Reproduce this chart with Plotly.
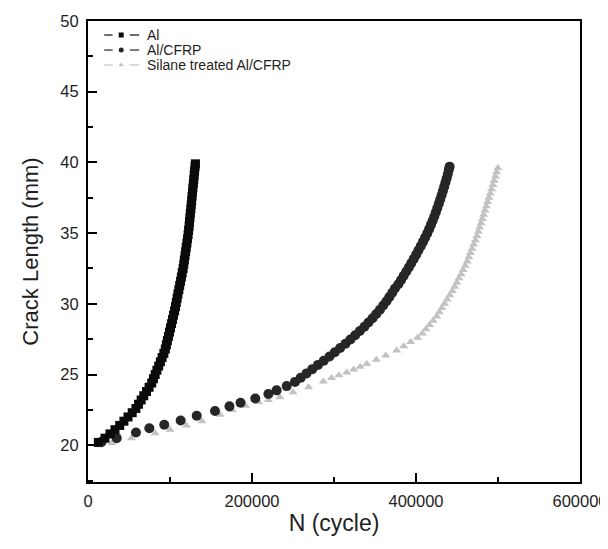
import plotly.graph_objects as go

# ---------------- data ----------------
al_n = [12.6, 20.7, 26.8, 32.9, 38.7, 43.8, 48.8, 53.9, 58.4, 61.6, 64.8, 68.0, 71.3, 74.5,
        77.7, 79.8, 81.9, 84.0, 86.2, 88.3, 90.4, 92.5, 94.3, 95.6, 96.8, 98.1, 99.4, 100.6,
        101.9, 103.1, 104.3, 105.6, 106.7, 107.7, 108.7, 109.7, 110.8, 111.8, 112.9, 113.9,
        114.9, 116.0, 116.8, 117.5, 118.3, 119.1, 119.8, 120.6, 121.4, 122.1, 122.7, 123.3,
        123.8, 124.3, 124.8, 125.4, 125.9, 126.4, 126.9, 127.4, 127.9, 128.5, 129.0, 129.5,
        130.0, 130.5, 131.0]
al_a = [20.2, 20.5, 20.8, 21.1, 21.4, 21.7, 22.0, 22.3, 22.6, 22.9, 23.2, 23.5, 23.8, 24.1,
        24.4, 24.7, 25.0, 25.3, 25.6, 25.9, 26.2, 26.5, 26.8, 27.1, 27.4, 27.7, 28.0, 28.3,
        28.6, 28.9, 29.2, 29.5, 29.8, 30.1, 30.4, 30.7, 31.0, 31.3, 31.6, 31.9, 32.2, 32.5,
        32.8, 33.1, 33.4, 33.7, 34.0, 34.3, 34.6, 34.9, 35.2, 35.5, 35.8, 36.1, 36.4, 36.7,
        37.0, 37.3, 37.6, 37.9, 38.2, 38.5, 38.8, 39.1, 39.4, 39.7, 39.9]

cfrp_n = [16.7, 35.0, 58.5, 74.8, 93.0, 113.0, 132.6, 154.9, 172.5, 186.0, 204.0, 220.0,
          230.0, 242.3, 252.4, 259.5, 266.5, 273.5, 280.5, 287.5, 294.5, 301.0, 307.5, 314.0,
          320.0, 325.8, 331.5, 337.0, 342.0, 347.0, 351.5, 356.0, 360.0, 364.0, 367.5, 371.0,
          374.3, 378.5, 381.8, 385.0, 388.2, 391.3, 394.3, 397.3, 400.2, 403.0, 405.8, 408.5,
          411.1, 413.7, 416.0, 418.2, 420.3, 422.3, 424.2, 426.0, 427.8, 429.5, 431.2, 432.8,
          434.4, 435.9, 437.4, 438.8, 440.0, 441.0]
cfrp_a = [20.25, 20.5, 20.9, 21.2, 21.45, 21.75, 22.08, 22.42, 22.75, 23.0, 23.3, 23.62,
          23.88, 24.18, 24.48, 24.78, 25.08, 25.38, 25.68, 25.98, 26.28, 26.58, 26.88, 27.18,
          27.48, 27.78, 28.08, 28.38, 28.68, 28.98, 29.28, 29.58, 29.88, 30.18, 30.48, 30.78,
          31.08, 31.38, 31.68, 31.98, 32.28, 32.58, 32.88, 33.18, 33.48, 33.78, 34.08, 34.38,
          34.68, 34.98, 35.28, 35.58, 35.88, 36.18, 36.48, 36.78, 37.08, 37.38, 37.68, 37.98,
          38.28, 38.58, 38.88, 39.18, 39.48, 39.7]

sil_n = [15.0, 29.0, 53.0, 82.0, 100.0, 120.0, 139.0, 161.0, 176.0, 192.0, 208.0, 220.0,
         234.0, 250.0, 269.0, 287.0, 297.0, 306.0, 315.5, 324.0, 332.0, 340.0, 351.5, 363.0,
         376.4, 385.0, 393.5, 402.0, 407.8, 412.1, 416.5, 420.9, 425.2, 428.4, 431.6, 434.8,
         438.0, 441.2, 444.4, 447.2, 449.8, 452.4, 455.0, 457.5, 460.1, 462.5, 464.4, 466.4,
         468.4, 470.4, 472.4, 474.3, 476.0, 477.6, 479.3, 480.9, 482.5, 484.1, 485.7, 487.3,
         488.9, 490.5, 492.2, 493.8, 495.3, 496.8, 498.4, 499.9]
sil_a = [20.0, 20.15, 20.5, 20.85, 21.1, 21.4, 21.7, 22.15, 22.5, 22.8, 23.05, 23.2,
         23.4, 23.75, 24.1, 24.5, 24.75, 24.95, 25.15, 25.35, 25.55, 25.75, 26.05, 26.35,
         26.7, 27.0, 27.3, 27.6, 27.9, 28.2, 28.5, 28.8, 29.1, 29.4, 29.7, 30.0,
         30.3, 30.6, 30.9, 31.2, 31.5, 31.8, 32.1, 32.4, 32.7, 33.0, 33.3, 33.6,
         33.9, 34.2, 34.5, 34.8, 35.1, 35.4, 35.7, 36.0, 36.3, 36.6, 36.9, 37.2,
         37.5, 37.8, 38.1, 38.4, 38.7, 39.0, 39.3, 39.6]

series_names = ["Al", "Al/CFRP", "Silane treated Al/CFRP"]
x_tick_vals = [0, 200000, 400000, 600000]
y_tick_vals = [20, 25, 30, 35, 40, 45, 50]

FONT = "Liberation Sans, Arial, sans-serif"
TXT = "#1e1e1e"

# styles per series: symbol, size, colour
styles = [("square", 9, "#0a0a0a"), ("circle", 10, "#262626"), ("triangle-up", 8, "#c2c2c2")]
datasets = [(al_n, al_a), (cfrp_n, cfrp_a), (sil_n, sil_a)]

# legend layout (fractions of the plot area)
LEG_Y = [0.9696, 0.937, 0.9046]
LEG_DASH_L = (0.033, 0.050)
LEG_DASH_R = (0.085, 0.104)
LEG_MARK_X = 0.0675
LEG_TEXT_X = 0.116

fig = go.Figure()

# data traces drawn back-to-front: silane, cfrp, al
for i in (2, 1, 0):
    n, a = datasets[i]
    sym, size, col = styles[i]
    fig.add_trace(go.Scatter(
        x=[v * 1000 for v in n], y=a, mode="markers", name=series_names[i], showlegend=False,
        marker=dict(symbol=sym, size=size, color=col, line=dict(width=0)),
    ))

# hand-built legend (compact line spacing as in the original)
for i in range(3):
    sym, size, col = styles[i]
    y = LEG_Y[i]
    fig.add_trace(go.Scatter(
        x=[LEG_DASH_L[0], LEG_DASH_L[1], None, LEG_DASH_R[0], LEG_DASH_R[1]],
        y=[y, y, None, y, y], xaxis="x2", yaxis="y2", mode="lines",
        line=dict(color=col, width=1.2), showlegend=False, hoverinfo="skip",
    ))
    fig.add_trace(go.Scatter(
        x=[LEG_MARK_X], y=[y], xaxis="x2", yaxis="y2", mode="markers",
        marker=dict(symbol=sym, size=5, color=col), showlegend=False, hoverinfo="skip",
    ))
    fig.add_annotation(
        x=LEG_TEXT_X, y=y, xref="paper", yref="paper",
        text=series_names[i], showarrow=False, xanchor="left", yanchor="middle",
        font=dict(family=FONT, size=14, color=TXT),
    )

axis_common = dict(
    showgrid=False, zeroline=False, showline=True, linecolor="black", linewidth=2,
    mirror=True, ticks="inside", ticklen=9, tickwidth=1.5, tickcolor="black",
    tickfont=dict(family=FONT, size=16.5, color=TXT), automargin=False,
    ticklabeloverflow="allow",
)

fig.update_xaxes(
    range=[0, 600000], tickvals=x_tick_vals, tickformat="d", ticklabelstandoff=3,
    minor=dict(dtick=100000, ticks="inside", ticklen=5, tickcolor="black", tickwidth=1.5),
    title=dict(text="N (cycle)", font=dict(family=FONT, size=23, color=TXT), standoff=6),
    **axis_common,
)
fig.update_yaxes(
    range=[17.4, 50], tickvals=y_tick_vals, ticklabelstandoff=4,
    minor=dict(dtick=2.5, ticks="inside", ticklen=5, tickcolor="black", tickwidth=1.5),
    title=dict(text="Crack Length (mm)", font=dict(family=FONT, size=22, color=TXT), standoff=16),
    **axis_common,
)

fig.update_layout(
    xaxis2=dict(overlaying="x", range=[0, 1], visible=False, fixedrange=True),
    yaxis2=dict(overlaying="y", range=[0, 1], visible=False, fixedrange=True),
    width=600, height=541,
    margin=dict(l=80, r=28, t=13, b=67, autoexpand=False),
    plot_bgcolor="white", paper_bgcolor="white",
    showlegend=False,
)

fig.write_html("out.html")
